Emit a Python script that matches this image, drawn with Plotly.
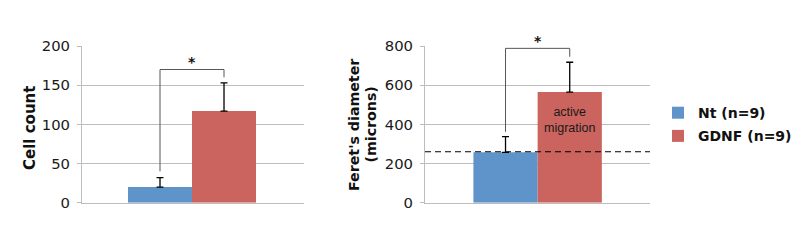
import plotly.graph_objects as go

# ---- data ----
groups = ["Nt", "GDNF"]
series_names = ["Nt (n=9)", "GDNF (n=9)"]
colors = ["#5e94c9", "#cb645e"]

cell_count = [20, 117]
cell_count_err = [12, 36]

feret = [257, 565]
feret_err = [80, 152]
migration_threshold = 260

# significance brackets: [left start, top, right end]
bracket_cell = [40, 170, 160]
bracket_feret = [362, 788, 745]

cell_ticks = [0, 50, 100, 150, 200]
feret_ticks = [0, 200, 400, 600, 800]

FONT = "DejaVu Sans"
GRID = "#bdbdbd"

fig = go.Figure()

for i, g in enumerate(groups):
    fig.add_trace(go.Bar(
        x=[g], y=[cell_count[i]], name=series_names[i], width=1,
        marker=dict(color=colors[i], line=dict(width=0)),
        error_y=dict(type="data", array=[cell_count_err[i]], arrayminus=[0],
                     symmetric=False, color="black", thickness=1.3, width=3.5),
        xaxis="x", yaxis="y", legendgroup=g, showlegend=True,
    ))
for i, g in enumerate(groups):
    fig.add_trace(go.Bar(
        x=[g], y=[feret[i]], name=series_names[i], width=1,
        marker=dict(color=colors[i], line=dict(width=0)),
        error_y=dict(type="data", array=[feret_err[i]], arrayminus=[0],
                     symmetric=False, color="black", thickness=1.3, width=3.5),
        xaxis="x2", yaxis="y2", legendgroup=g, showlegend=False,
    ))

# brackets
for br, xa, ya in [(bracket_cell, "x", "y"), (bracket_feret, "x2", "y2")]:
    fig.add_trace(go.Scatter(
        x=[groups[0], groups[0], groups[1], groups[1]],
        y=[br[0], br[1], br[1], br[2]],
        mode="lines", line=dict(color="#555555", width=1),
        xaxis=xa, yaxis=ya, showlegend=False, hoverinfo="skip",
    ))

axis_common = dict(showgrid=False, zeroline=False, showticklabels=False,
                   showline=True, linecolor=GRID, linewidth=1, ticks="",
                   automargin=False,
                   type="category", categoryorder="array", categoryarray=groups)
yaxis_common = dict(showgrid=True, gridcolor=GRID, gridwidth=1, zeroline=False,
                    showline=True, linecolor=GRID, linewidth=1, automargin=False,
                    ticks="outside", ticklen=4, tickcolor=GRID, tickwidth=1,
                    ticklabelstandoff=4,
                    tickfont=dict(family=FONT, size=14.8, color="#1a1a1a"))

fig.update_layout(
    width=800, height=251,
    margin=dict(l=0, r=0, t=0, b=0, autoexpand=False),
    paper_bgcolor="white", plot_bgcolor="white",
    barmode="overlay",
    xaxis=dict(domain=[82/800, 304/800], range=[-1.219, 2.25], anchor="y", **axis_common),
    yaxis=dict(domain=[(251-202.7)/251, (251-46)/251], range=[0, 200],
               tickvals=cell_ticks, anchor="x", **yaxis_common),
    xaxis2=dict(domain=[425/800, 650/800], range=[-1.254, 2.25], anchor="y2", **axis_common),
    yaxis2=dict(domain=[(251-202.7)/251, (251-46)/251], range=[0, 800],
                tickvals=feret_ticks, anchor="x2", **yaxis_common),
    legend=dict(x=658/800, xanchor="left", y=0.5036, yanchor="middle",
                font=dict(family=FONT, size=14, color="#111111", weight="bold"),
                tracegroupgap=2, traceorder="grouped", bgcolor="rgba(0,0,0,0)"),
    showlegend=True,
)

fig.add_shape(type="line", xref="x2 domain", yref="y2", x0=0, x1=1,
              y0=migration_threshold, y1=migration_threshold,
              line=dict(color="black", width=1.2, dash="6px,4px"), layer="above")

# annotations
fig.add_annotation(x=0.5, y=bracket_cell[1], xref="x", yref="y", text="*",
                   showarrow=False, yanchor="bottom", yshift=-3,
                   font=dict(family=FONT, size=14, color="#111111", weight="bold"))
fig.add_annotation(x=0.5, y=bracket_feret[1], xref="x2", yref="y2", text="*",
                   showarrow=False, yanchor="bottom", yshift=-3,
                   font=dict(family=FONT, size=14, color="#111111", weight="bold"))
fig.add_annotation(x=groups[1], y=422, xref="x2", yref="y2",
                   text="active<br>migration", showarrow=False,
                   font=dict(family="Liberation Sans", size=12.5, color="#1a1a1a"))

fig.add_annotation(x=19/800, y=(251-128)/251, xref="paper", yref="paper",
                   text="Cell count", textangle=-90, showarrow=False,
                   font=dict(family=FONT, size=15, color="#111111", weight="bold"))
fig.add_annotation(x=354/800, y=(251-125)/251, xref="paper", yref="paper",
                   text="Feret's diameter", textangle=-90, showarrow=False,
                   font=dict(family=FONT, size=14.2, color="#111111", weight="bold"))
fig.add_annotation(x=370.5/800, y=(251-125)/251, xref="paper", yref="paper",
                   text="(microns)", textangle=-90, showarrow=False,
                   font=dict(family=FONT, size=14.2, color="#111111", weight="bold"))

fig.write_html("out.html")
